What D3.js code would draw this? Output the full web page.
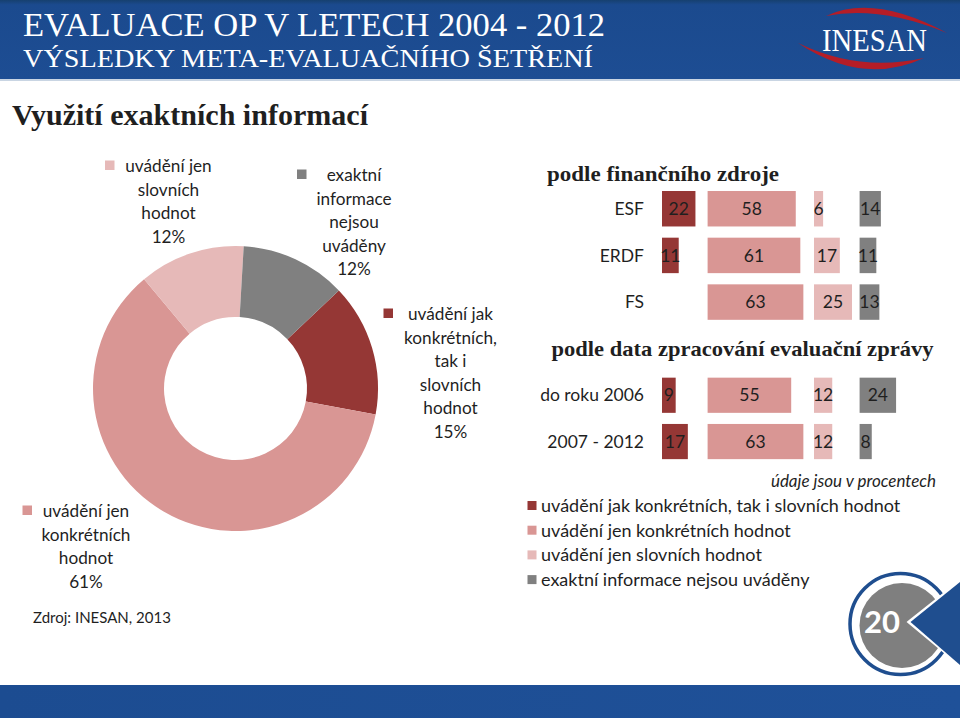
<!DOCTYPE html>
<html><head><meta charset="utf-8">
<script src="https://cdn.jsdelivr.net/npm/d3@7"></script>
<style>body{margin:0;background:#fff}svg{display:block}</style>
</head><body>
<svg id="c" width="960" height="718"></svg>
<script>
// ---------- data ----------
const categories = [
  "uvádění jak konkrétních, tak i slovních hodnot",
  "uvádění jen konkrétních hodnot",
  "uvádění jen slovních hodnot",
  "exaktní informace nejsou uváděny"
];
const donutValues = [15, 61, 12, 12];
const donutLabelLines = [
  ["uvádění jak", "konkrétních,", "tak i", "slovních", "hodnot"],
  ["uvádění jen", "konkrétních", "hodnot"],
  ["uvádění jen", "slovních", "hodnot"],
  ["exaktní", "informace", "nejsou", "uváděny"]
];
const sourceGroups = ["ESF", "ERDF", "FS"];
const sourceValues = [
  [22, 58, 6, 14],
  [11, 61, 17, 11],
  [null, 63, 25, 13]
];
const periodGroups = ["do roku 2006", "2007 - 2012"];
const periodValues = [
  [9, 55, 12, 24],
  [17, 63, 12, 8]
];
const colors = ["#953735", "#D99694", "#E6B9B8", "#808080"];

// ---------- setup ----------
const svg = d3.select("#c");
const SANS = "Lato, 'Open Sans', sans-serif";
const SERIF = "'Liberation Serif', 'DejaVu Serif', serif";
const TXT = "#1f1f1f";

// header
const defs = svg.append("defs");
const g1 = defs.append("linearGradient").attr("id", "hdr").attr("x1", 0).attr("x2", 0).attr("y1", 0).attr("y2", 1);
g1.append("stop").attr("offset", 0).attr("stop-color", "#16406f");
g1.append("stop").attr("offset", 0.06).attr("stop-color", "#1b4a8e");
g1.append("stop").attr("offset", 1).attr("stop-color", "#1d4d93");
svg.append("rect").attr("x", 0).attr("y", 0).attr("width", 960).attr("height", 79).attr("fill", "url(#hdr)");
svg.append("rect").attr("x", 0).attr("y", 79).attr("width", 960).attr("height", 2).attr("fill", "#c9d5e3");
svg.append("text").attr("x", 23).attr("y", 36).attr("fill", "#fff")
  .attr("font-family", SERIF).attr("font-size", 33).attr("textLength", 582).attr("lengthAdjust", "spacingAndGlyphs")
  .text("EVALUACE OP V LETECH 2004 - 2012");
svg.append("text").attr("x", 23).attr("y", 67).attr("fill", "#fff")
  .attr("font-family", SERIF).attr("font-size", 26).attr("textLength", 570).attr("lengthAdjust", "spacingAndGlyphs")
  .text("VÝSLEDKY META-EVALUAČNÍHO ŠETŘENÍ");
// logo
svg.append("path").attr("fill", "#b51d27")
  .attr("d", "M826,16 Q873.5,-6.5 947,33 Q879.5,5.5 826,16 Z");
svg.append("path").attr("fill", "#b51d27")
  .attr("d", "M798,43 Q863,86.5 924,58 Q859,72.5 798,43 Z");
svg.append("text").attr("x", 822).attr("y", 51).attr("fill", "#fff")
  .attr("font-family", SERIF).attr("font-size", 31).attr("textLength", 105).attr("lengthAdjust", "spacingAndGlyphs")
  .text("INESAN");

// page title
svg.append("text").attr("x", 12).attr("y", 125).attr("fill", TXT)
  .attr("font-family", SERIF).attr("font-weight", "bold").attr("font-size", 29)
  .attr("textLength", 356).attr("lengthAdjust", "spacingAndGlyphs")
  .text("Využití exaktních informací");

// ---------- donut ----------
const cx = 235.5, cy = 388.5;
const a0 = 46.5 * Math.PI / 180;
const pie = d3.pie().sort(null).startAngle(a0).endAngle(a0 + 2 * Math.PI);
const arc = d3.arc().innerRadius(71.5).outerRadius(142.5);
const donut = svg.append("g").attr("transform", `translate(${cx},${cy})`);
donut.selectAll("path").data(pie(donutValues)).join("path")
  .attr("d", arc).attr("fill", (d, i) => colors[i]);

// donut labels: [center x, first line y, marker x, marker y]
const labelPos = [
  [450.5, 314, 383.5, 308.5],
  [86, 511, 22.5, 505.5],
  [168.5, 166, 105, 160.5],
  [354, 175, 297, 169.5]
];
donutLabelLines.forEach((lines, i) => {
  const [lx, ly, mx, my] = labelPos[i];
  const all = lines.concat([d3.format(".0%")(donutValues[i] / 100)]);
  const t = svg.append("text").attr("font-family", SANS).attr("font-size", 17.2)
    .attr("fill", TXT).attr("text-anchor", "middle");
  all.forEach((s, k) => t.append("tspan").attr("x", lx).attr("y", ly + k * 23.6).attr("dy", "0.35em").text(s));
  svg.append("rect").attr("x", mx).attr("y", my).attr("width", 9.5).attr("height", 9.5).attr("fill", colors[i]);
});

// ---------- bar panels ----------
const colStart = [0, 30, 100, 130];
const x = d3.scaleLinear().domain([0, 160]).range([662, 662 + 160 * 1.52]);

function panel(groups, values, top, step, title, titleX, titleY, titleW) {
  svg.append("text").attr("x", titleX).attr("y", titleY).attr("fill", TXT)
    .attr("font-family", SERIF).attr("font-weight", "bold").attr("font-size", 21)
    .attr("textLength", titleW).attr("lengthAdjust", "spacingAndGlyphs").text(title);
  const y = d3.scaleBand().domain(groups).range([top, top + groups.length * step])
    .paddingInner(0.24).paddingOuter(0.12);
  groups.forEach((gname, gi) => {
    svg.append("text").attr("x", 644).attr("y", y(gname) + y.bandwidth() / 2).attr("dy", "0.35em")
      .attr("text-anchor", "end").attr("font-family", SANS).attr("font-size", 17.5).attr("fill", TXT).text(gname);
    values[gi].forEach((v, j) => {
      if (v == null) return;
      const x0 = x(colStart[j]), w = x(colStart[j] + v) - x0;
      svg.append("rect").attr("x", x0).attr("y", y(gname)).attr("width", w).attr("height", y.bandwidth()).attr("fill", colors[j]);
      svg.append("text").attr("x", x0 + w / 2).attr("y", y(gname) + y.bandwidth() / 2).attr("dy", "0.35em")
        .attr("text-anchor", "middle").attr("font-family", SANS).attr("font-size", 17.5).attr("fill", TXT).text(v);
    });
  });
}
panel(sourceGroups, sourceValues, 185.4, 46.67, "podle finančního zdroje", 547, 181, 232);
panel(periodGroups, periodValues, 372.1, 46.3, "podle data zpracování evaluační zprávy", 551.5, 356, 382);

// ---------- legend ----------
svg.append("text").attr("x", 936).attr("y", 481).attr("dy", "0.35em").attr("text-anchor", "end")
  .attr("font-family", SANS).attr("font-style", "italic").attr("font-size", 17).attr("fill", TXT)
  .text("údaje jsou v procentech");
categories.forEach((c, i) => {
  const yy = 505.7 + i * 24.7;
  svg.append("rect").attr("x", 527.5).attr("y", yy - 4.7).attr("width", 9).attr("height", 9).attr("fill", colors[i]);
  svg.append("text").attr("x", 541).attr("y", yy).attr("dy", "0.35em")
    .attr("font-family", SANS).attr("font-size", 18).attr("fill", TXT).text(c);
});

// source
svg.append("text").attr("x", 33).attr("y", 618).attr("dy", "0.35em")
  .attr("font-family", SANS).attr("font-size", 15).attr("fill", TXT).text("Zdroj: INESAN, 2013");

// ---------- footer ----------
const g2 = defs.append("linearGradient").attr("id", "ftr").attr("x1", 0).attr("x2", 1);
g2.append("stop").attr("offset", 0).attr("stop-color", "#1c4c91");
g2.append("stop").attr("offset", 1).attr("stop-color", "#1f5199");
svg.append("rect").attr("x", 0).attr("y", 685).attr("width", 960).attr("height", 33).attr("fill", "url(#ftr)");
svg.append("circle").attr("cx", 900.5).attr("cy", 624).attr("r", 50.5).attr("fill", "none")
  .attr("stroke", "#1f4e8f").attr("stroke-width", 3.5);
svg.append("circle").attr("cx", 902).attr("cy", 625.5).attr("r", 42.5).attr("fill", "#7f7f7f");
svg.append("path").attr("d", "M910.5,622 L962,581 L962,665 Z").attr("fill", "#1f4e8f")
  .attr("stroke", "#fff").attr("stroke-width", 5).attr("stroke-linejoin", "miter");
svg.append("path").attr("d", "M910.5,622 L960,582 L960,665 Z").attr("fill", "#1f4e8f");
svg.append("text").attr("x", 882).attr("y", 633).attr("text-anchor", "middle")
  .attr("font-family", SANS).attr("font-weight", "bold").attr("font-size", 31).attr("fill", "#fff").text("20");
</script>
</body></html>
